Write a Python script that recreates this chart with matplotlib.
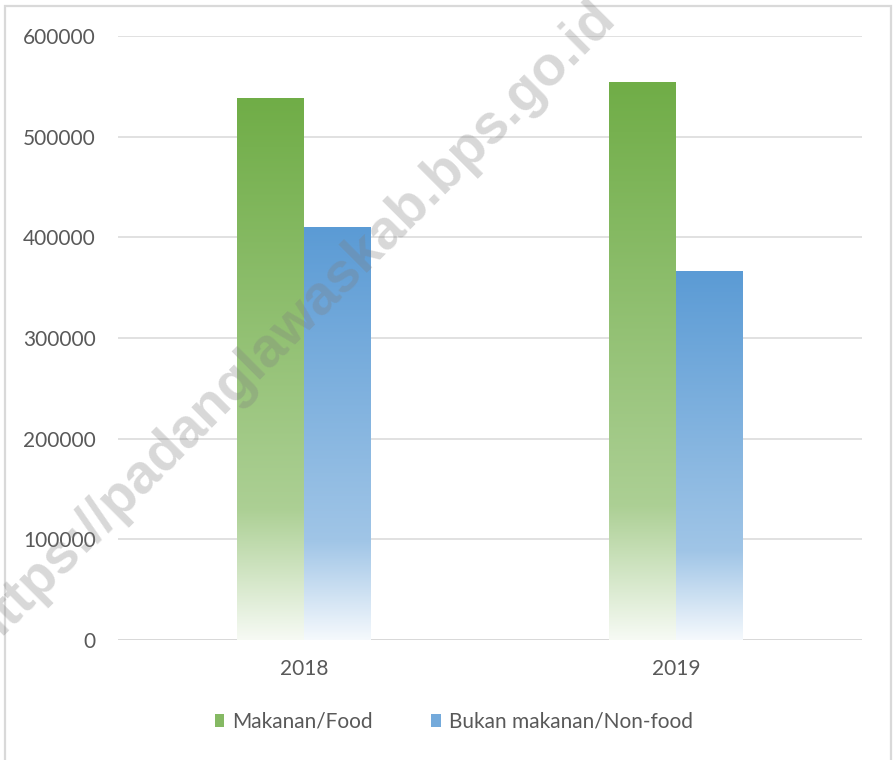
"""Food vs non-food per-capita spending, 2018-2019 (gradient bars)."""

import matplotlib

matplotlib.use("Agg")

import matplotlib.pyplot as plt
import numpy as np
from matplotlib.colors import to_rgb
from matplotlib.patches import Patch, Rectangle

years = ["2018", "2019"]
series_names = ["Makanan/Food", "Bukan makanan/Non-food"]
food = [537500, 554300]
non_food = [409300, 366500]
y_ticks = [0, 100000, 200000, 300000, 400000, 500000, 600000]
watermark = "https://padanglawaskab.bps.go.id"

GREEN = "#70AD47"
BLUE = "#5B9BD5"
TEXT = "#595959"
GRID = "#D9D9D9"
FONT = ["Lato", "DejaVu Sans"]


def blend(color, amount):
    """Mix ``color`` towards white by ``amount`` (0 = unchanged, 1 = white)."""
    rgb = np.array(to_rgb(color))
    return rgb + (1.0 - rgb) * amount


def gradient_image(color, n=256):
    """Vertical gradient, row 0 = bar top (solid), last row = near white."""
    t = np.linspace(0.0, 1.0, n)
    stops_t = [0.0, 0.76, 1.0]
    stops_c = [blend(color, 0.0), blend(color, 0.42), blend(color, 0.94)]
    img = np.zeros((n, 1, 3))
    for ch in range(3):
        img[:, 0, ch] = np.interp(t, stops_t, [c[ch] for c in stops_c])
    return img


def gradient_bars(ax, xs, heights, width, color):
    bars = ax.bar(xs, heights, width=width, color="none", edgecolor="none")
    for rect in bars:
        x0 = rect.get_x()
        h = rect.get_height()
        ax.imshow(
            gradient_image(color),
            extent=[x0, x0 + rect.get_width(), 0, h],
            aspect="auto",
            interpolation="bilinear",
            zorder=2,
        )
    return bars


fig = plt.figure(figsize=(8.94, 7.6), dpi=100)
ax = fig.add_axes([118 / 894, 1 - 640 / 760, (862 - 118) / 894, (640 - 36) / 760])

x = np.arange(len(years))
bar_w = 0.18
gradient_bars(ax, x - bar_w / 2, food, bar_w, GREEN)
gradient_bars(ax, x + bar_w / 2, non_food, bar_w, BLUE)

ax.set_xlim(-0.5, len(years) - 0.5)
ax.set_ylim(0, 600000)
ax.set_xticks(x)
ax.set_xticklabels(years)
ax.set_yticks(y_ticks)
ax.set_yticklabels([str(v) for v in y_ticks])

for spine in ax.spines.values():
    spine.set_visible(False)
ax.axhline(0, color=GRID, lw=2.0, zorder=1.5)
ax.grid(axis="y", color=GRID, lw=1.1, zorder=0)
ax.set_axisbelow(True)
ax.tick_params(axis="both", length=0, colors=TEXT, labelsize=15)
ax.tick_params(axis="y", pad=16)
ax.tick_params(axis="x", pad=14)
for lbl in ax.get_xticklabels() + ax.get_yticklabels():
    lbl.set_family(FONT)

handles = [
    Patch(facecolor=blend(GREEN, 0.15), edgecolor="none"),
    Patch(facecolor=blend(BLUE, 0.15), edgecolor="none"),
]
leg = fig.legend(
    handles,
    series_names,
    loc="center",
    bbox_to_anchor=(454 / 894, 1 - 722 / 760),
    ncol=2,
    frameon=False,
    handlelength=0.45,
    handleheight=0.6,
    handletextpad=0.4,
    columnspacing=2.8,
    prop={"family": FONT, "size": 15},
)
for txt in leg.get_texts():
    txt.set_color(TEXT)

# outer border of the chart box (bottom edge is cropped off in the source)
fig.patches.append(
    Rectangle(
        (5 / 894, -0.02),
        (891 - 5) / 894,
        1.02 - 6 / 760,
        transform=fig.transFigure,
        fill=False,
        edgecolor=GRID,
        lw=1.6,
    )
)

fig.text(
    292 / 894,
    1 - 325 / 760,
    watermark,
    rotation=45,
    rotation_mode="anchor",
    ha="center",
    va="center",
    fontsize=40,
    fontweight="bold",
    family=["Liberation Sans", "DejaVu Sans"],
    color="#7F7F7F",
    alpha=0.3,
    zorder=10,
)

fig.savefig("out.png", dpi=100)
